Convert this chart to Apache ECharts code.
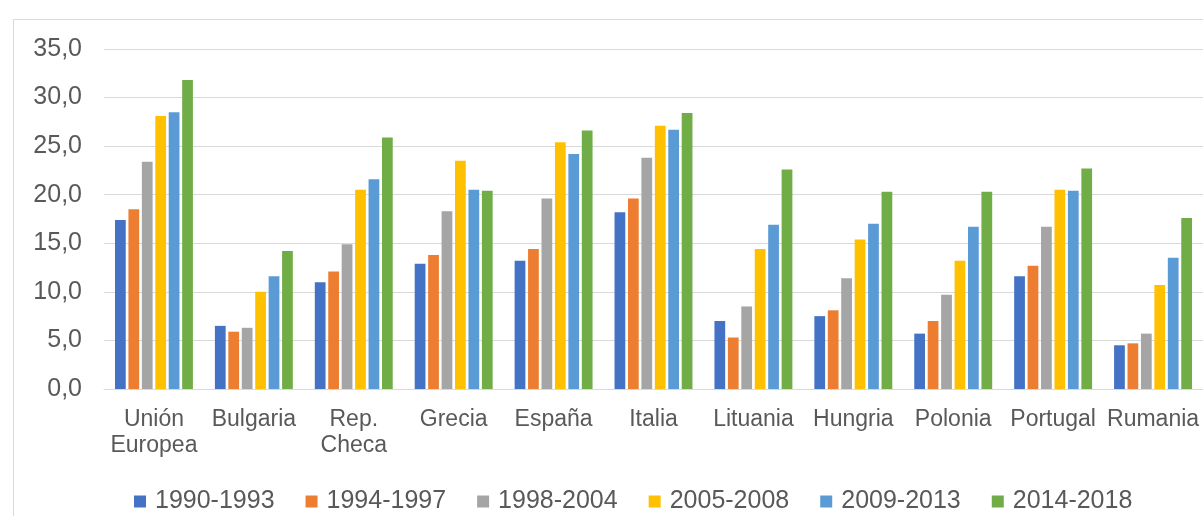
<!DOCTYPE html>
<html>
<head>
<meta charset="utf-8">
<script src="https://cdn.jsdelivr.net/npm/echarts@6/dist/echarts.min.js"></script>
<style>
  html, body { margin: 0; padding: 0; background: #ffffff; }
  #chart { width: 1203px; height: 516px; }
</style>
</head>
<body>
<div id="chart"></div>
<script>
// Countries along the horizontal axis
const paises = ['Unión\nEuropea', 'Bulgaria', 'Rep.\nCheca', 'Grecia', 'España', 'Italia',
                'Lituania', 'Hungria', 'Polonia', 'Portugal', 'Rumania'];

// Periods (one series each)
const periodos = ['1990-1993', '1994-1997', '1998-2004', '2005-2008', '2009-2013', '2014-2018'];

// Values per period, in country order
const v1990_1993 = [17.4, 6.5, 11.0, 12.9, 13.2, 18.2, 7.0, 7.5, 5.7, 11.6, 4.5];
const v1994_1997 = [18.5, 5.9, 12.1, 13.8, 14.4, 19.6, 5.3, 8.1, 7.0, 12.7, 4.7];
const v1998_2004 = [23.4, 6.3, 14.9, 18.3, 19.6, 23.8, 8.5, 11.4, 9.7, 16.7, 5.7];
const v2005_2008 = [28.1, 10.0, 20.5, 23.5, 25.4, 27.1, 14.4, 15.4, 13.2, 20.5, 10.7];
const v2009_2013 = [28.5, 11.6, 21.6, 20.5, 24.2, 26.7, 16.9, 17.0, 16.7, 20.4, 13.5];
const v2014_2018 = [31.8, 14.2, 25.9, 20.4, 26.6, 28.4, 22.6, 20.3, 20.3, 22.7, 17.6];

const valores = [v1990_1993, v1994_1997, v1998_2004, v2005_2008, v2009_2013, v2014_2018];

// Y axis range
const yMin = 0;
const yMax = 35;
const yStep = 5;

const colores = ['#4472C4', '#ED7D31', '#A5A5A5', '#FFC000', '#5B9BD5', '#70AD47'];

const fuente = '"Liberation Sans", Arial, sans-serif';
const gris = '#595959';

const chart = echarts.init(document.getElementById('chart'), null, { renderer: 'canvas' });

chart.setOption({
  animation: false,
  backgroundColor: '#ffffff',
  color: colores,
  graphic: [{
    type: 'rect',
    left: 11, top: 17,
    shape: { width: 1400, height: 700 },
    style: { fill: 'none', stroke: '#d9d9d9', lineWidth: 1 },
    silent: true,
    z: -1
  }],
  grid: { left: 104, top: 49, width: 1100, bottom: 127, containLabel: false },
  legend: {
    data: periodos,
    left: 129,
    top: 484,
    icon: 'rect',
    itemWidth: 12,
    itemHeight: 12,
    itemGap: 31,
    textStyle: { fontFamily: fuente, fontSize: 25, color: gris, padding: [0, 0, 0, 4] }
  },
  xAxis: {
    type: 'category',
    data: paises,
    axisLine: { show: true, lineStyle: { color: '#d9d9d9', width: 1 } },
    axisTick: { show: false },
    axisLabel: {
      interval: 0,
      margin: 18,
      fontFamily: fuente,
      fontSize: 23,
      lineHeight: 26,
      color: gris
    }
  },
  yAxis: {
    type: 'value',
    min: yMin,
    max: yMax,
    interval: yStep,
    axisLine: { show: false },
    axisTick: { show: false },
    splitLine: { lineStyle: { color: '#d9d9d9', width: 1 } },
    axisLabel: {
      margin: 22,
      fontFamily: fuente,
      fontSize: 25,
      color: gris,
      formatter: v => v.toFixed(1).replace('.', ',')
    }
  },
  series: periodos.map((p, i) => ({
    name: p,
    type: 'bar',
    data: valores[i],
    barGap: '25%',
    barCategoryGap: '22%'
  }))
});
</script>
</body>
</html>
